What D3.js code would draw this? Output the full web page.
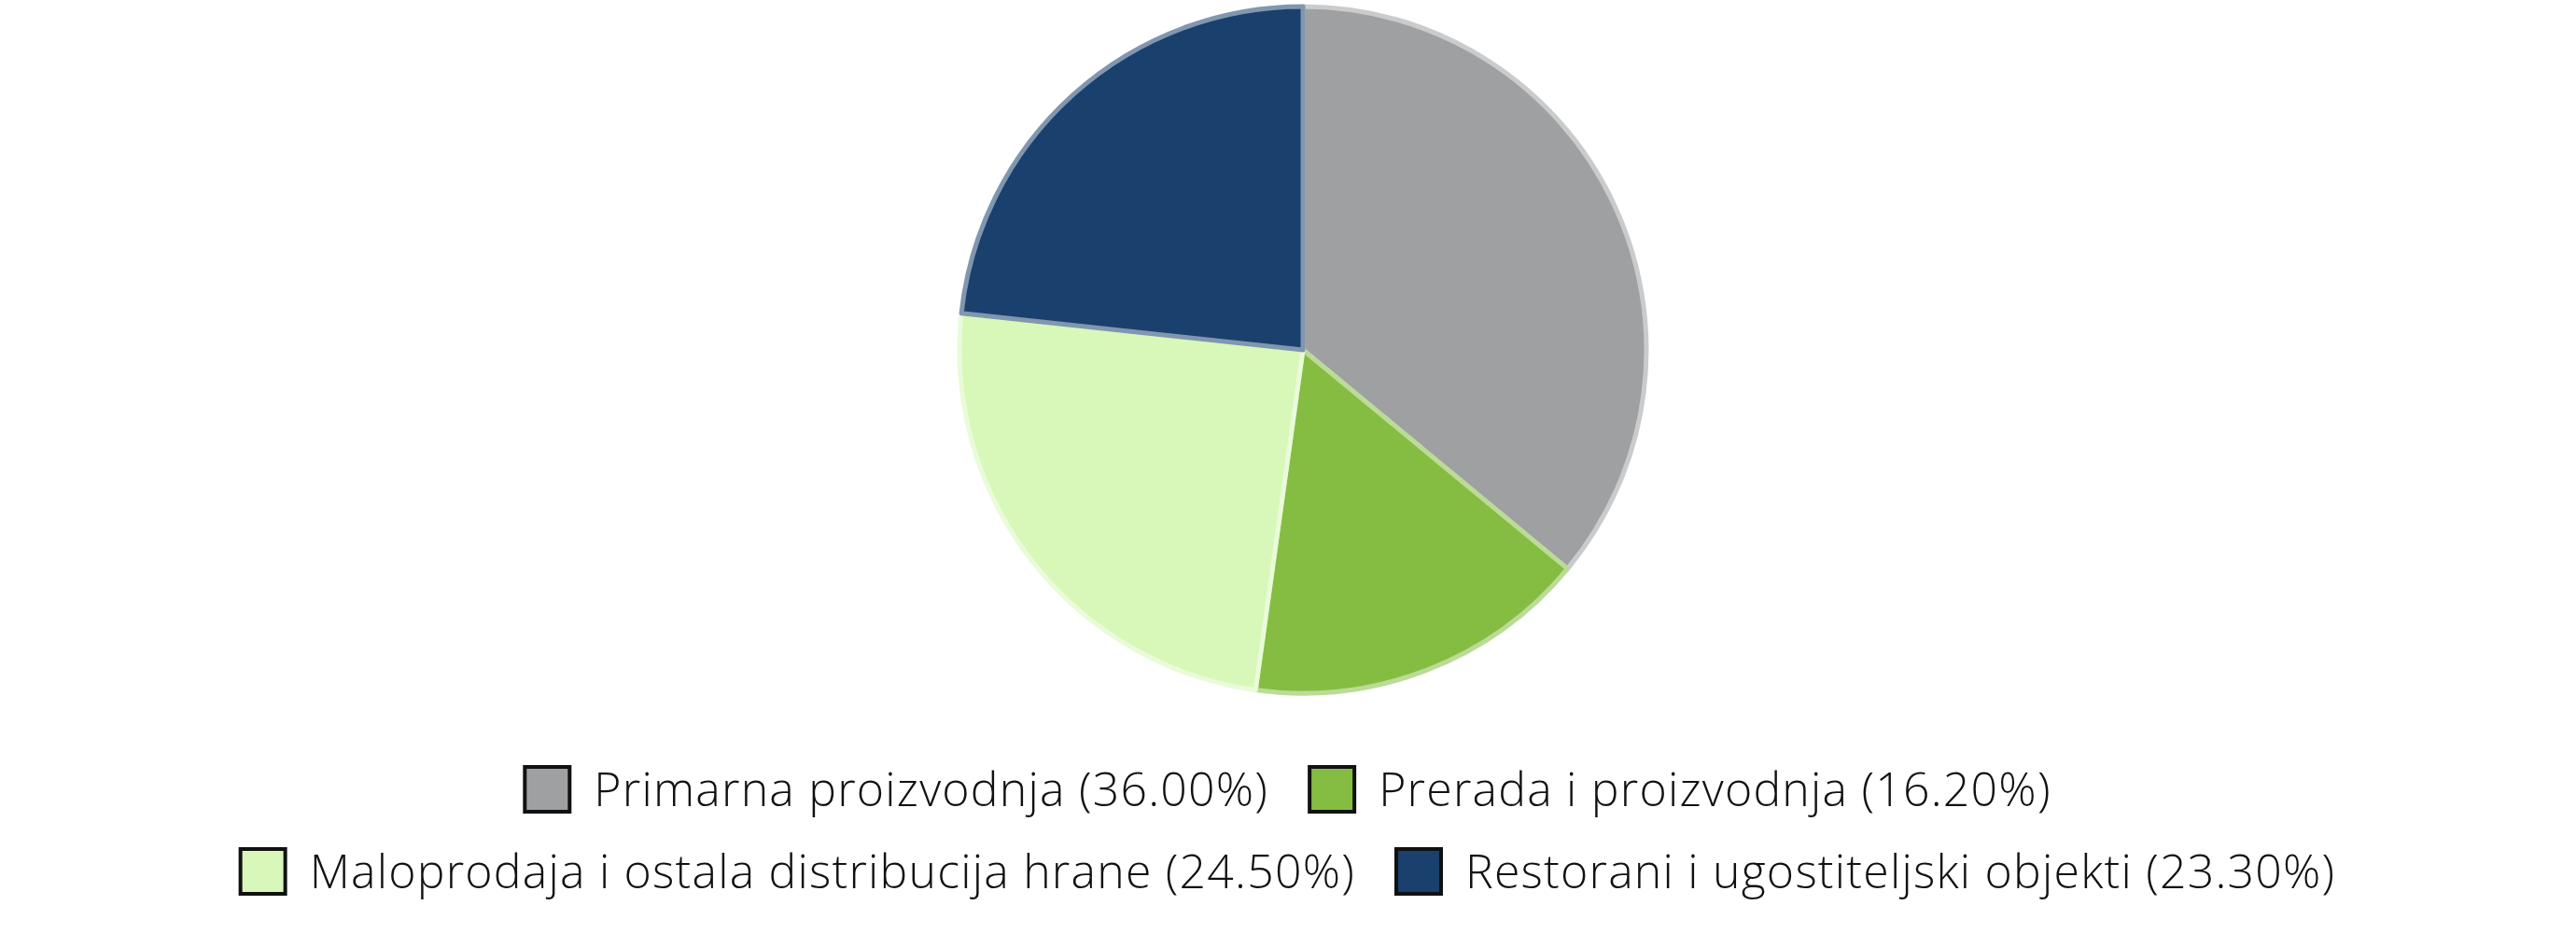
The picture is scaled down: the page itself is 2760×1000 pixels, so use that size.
<!DOCTYPE html>
<html>
<head>
<meta charset="utf-8">
<script src="https://cdn.jsdelivr.net/npm/d3@7"></script>
<style>
  body { margin: 0; background: #fff; }
  svg text { font-family: "Open Sans", sans-serif; font-weight: 300; }
</style>
</head>
<body>
<script>
const categories = [
  "Primarna proizvodnja",
  "Prerada i proizvodnja",
  "Maloprodaja i ostala distribucija hrane",
  "Restorani i ugostiteljski objekti"
];
const shares = [36.00, 16.20, 24.50, 23.30];
const colors = ["#9fa0a2", "#84bd41", "#d7f8b8", "#1a406d"];
const legendRows = [[0, 1], [2, 3]];

const W = 2760, H = 1000;
const cx = 1396, cy = 375, R = 368;

const data = categories.map((c, i) => ({ name: c, value: shares[i], color: colors[i] }));

const svg = d3.select("body").append("svg")
  .attr("width", W)
  .attr("height", H);

const pie = d3.pie().sort(null).value(d => d.value);
const arc = d3.arc().innerRadius(0).outerRadius(R);

svg.append("g")
  .attr("transform", `translate(${cx},${cy})`)
  .selectAll("path")
  .data(pie(data))
  .join("path")
    .attr("d", arc)
    .attr("fill", d => d.data.color)
    .attr("stroke", d => d3.interpolateRgb(d.data.color, "#ffffff")(0.45))
    .attr("stroke-width", 5)
    .attr("stroke-linejoin", "round");

// legend
const fontSize = 50, box = 48, boxGap = 26, itemGap = 44;
const rowY = [846, 934];
const legend = svg.append("g");

legendRows.forEach((row, r) => {
  const g = legend.append("g");
  let x = 0;
  row.forEach(i => {
    const item = g.append("g").attr("transform", `translate(${x},0)`);
    item.append("rect")
      .attr("x", 0).attr("y", -box / 2)
      .attr("width", box).attr("height", box)
      .attr("fill", colors[i])
      .attr("stroke", "#111")
      .attr("stroke-width", 4);
    const t = item.append("text")
      .attr("x", box + boxGap)
      .attr("y", 0)
      .attr("dy", "0.35em")
      .attr("font-size", fontSize)
      .attr("letter-spacing", 1.2)
      .attr("fill", "#111")
      .text(`${categories[i]} (${shares[i].toFixed(2)}%)`);
    x += box + boxGap + t.node().getComputedTextLength() + itemGap;
  });
  const total = x - itemGap;
  g.attr("transform", `translate(${1380 - total / 2},${rowY[r]})`);
});
</script>
</body>
</html>
